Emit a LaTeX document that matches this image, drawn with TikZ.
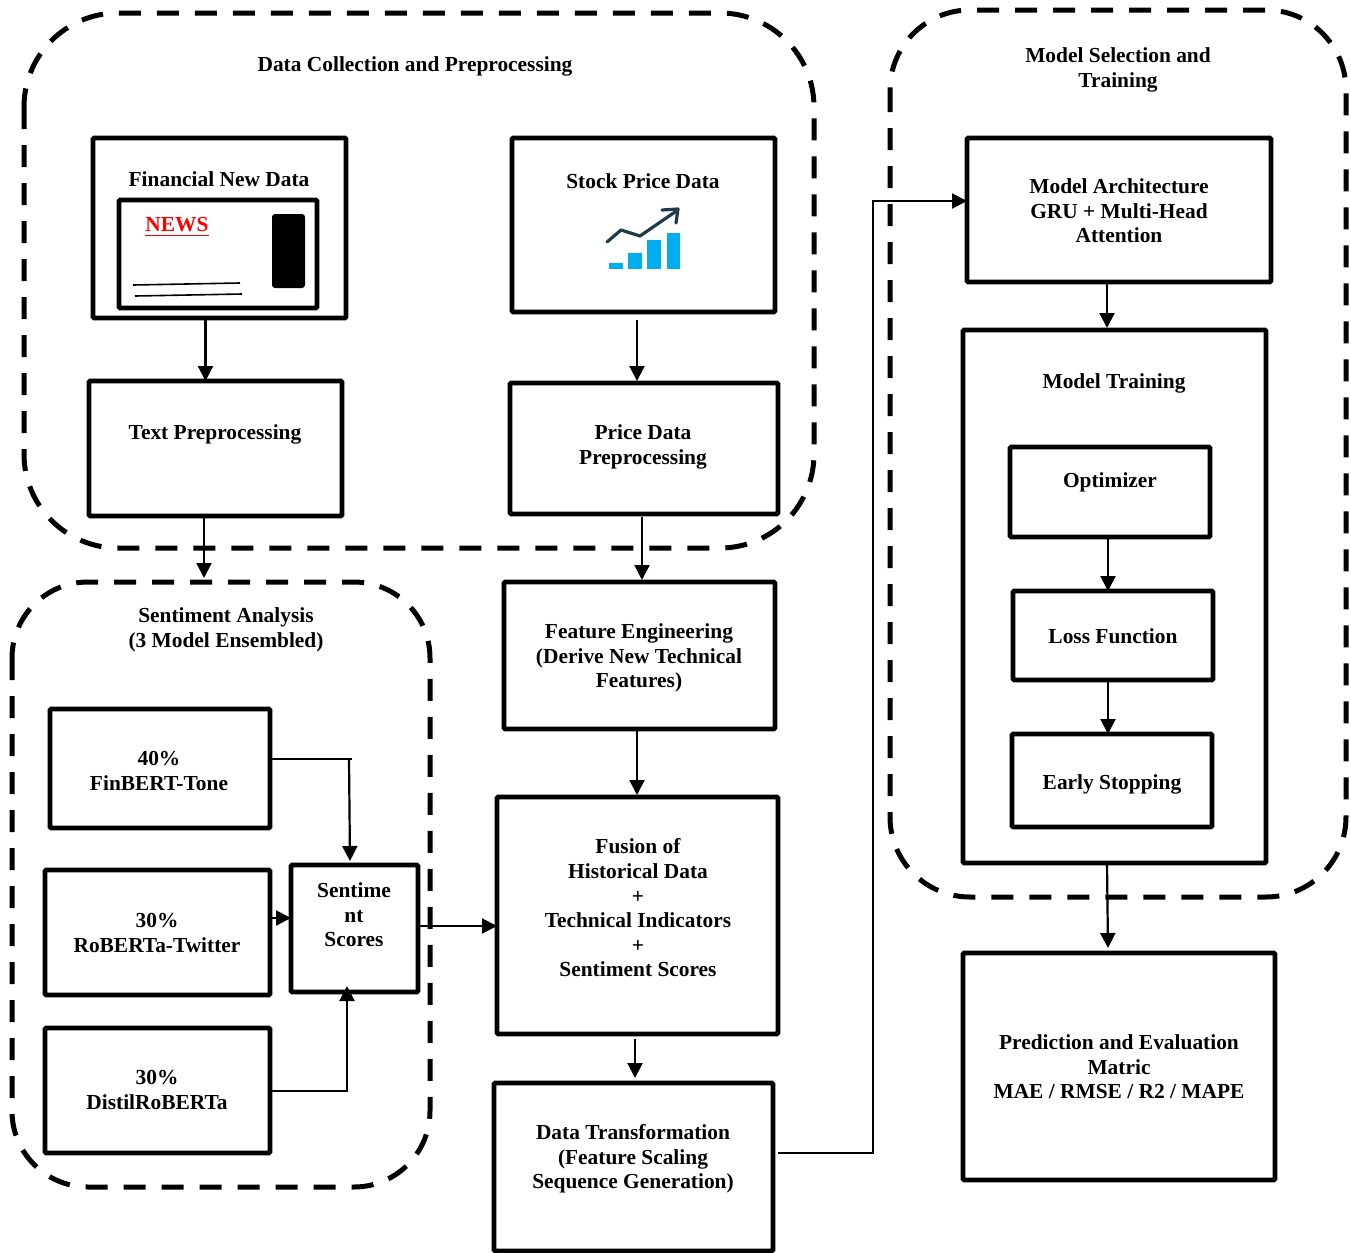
\documentclass[tikz,border=0pt]{standalone}
\usepackage{fontspec}
\setmainfont{Liberation Serif}
\usetikzlibrary{arrows.meta}
\definecolor{barblue}{HTML}{00AEEF}
\definecolor{trendnavy}{HTML}{1F3A4D}

\begin{document}
\begin{tikzpicture}
    [x=0.5pt,y=-0.5pt,
    box/.style = {draw=black,line width=2.3pt,rounded corners=0.6pt,outer sep=0pt,inner sep=0pt},
    txt/.style = {align=center,inner sep=0pt,font=\fontsize{10.7}{12.3}\selectfont\bfseries},
    group/.style = {draw=black,line width=2.5pt,dash pattern=on 11pt off 8pt},
    link/.style = {draw=black,line width=1.1pt},
    arrow/.style = {link,-{Triangle[width=7.5pt,length=7.5pt]}}]
    \useasboundingbox (0,0) rectangle (1351,1253);
    % Dashed groups
    \draw[group,rounded corners=47pt] (24,13) rectangle (814,548);
    \draw[group,rounded corners=38pt] (12,582) rectangle (430,1187);
    \draw[group,rounded corners=40pt] (890,10) rectangle (1346,897);
    \node[txt] (collect) at (415,66) {Data Collection and Preprocessing};
    \node[txt] (sentgroup) at (226,630) {Sentiment Analysis\\(3 Model Ensembled)};
    \node[txt] (selgroup) at (1118,70) {Model Selection and\\Training};
    % Data sources
    \node[box,minimum width=126.5pt,minimum height=90pt] (fin) at (219.5,228) {};
    \node[txt] (finl) at (219,179) {Financial New Data};
    \node[box,minimum width=99pt,minimum height=54pt] (paper) at (218,254) {};
    \node[txt,text=red,font=\fontsize{10.7}{13}\selectfont\bfseries] (news) at (177,227) {\underline{NEWS}};
    \fill[black,rounded corners=1.5pt] (272,214) rectangle (305,288);
    \draw[line width=0.8pt] (133,285) -- (240,283);
    \draw[line width=0.8pt] (135,296) -- (242,294);
    \node[box,minimum width=131.5pt,minimum height=87pt] (stock) at (643.5,225) {};
    \node[txt] (stockl) at (643,181) {Stock Price Data};
    % Stock icon
    \fill[barblue] (609,263) rectangle (623,269);
    \fill[barblue] (628,253) rectangle (642,269);
    \fill[barblue] (647,240) rectangle (661,269);
    \fill[barblue] (667,233) rectangle (680,269);
    \draw[line width=1.6pt,draw=trendnavy,line cap=round,line join=round] (607,242) -- (621,230) -- (640,236) -- (675,212);
    \draw[line width=1.6pt,draw=trendnavy,line cap=round,line join=round] (662,210) -- (678,209) -- (676,223);
    % Preprocessing
    \node[box,minimum width=126.5pt,minimum height=67.5pt] (text) at (215.5,448.5) {};
    \node[txt] (textl) at (215,434) {Text Preprocessing};
    \node[box,minimum width=134pt,minimum height=65.5pt] (price) at (644,448.5) {};
    \node[txt] (pricel) at (643,447) {Price Data\\Preprocessing};
    % Sentiment models
    \node[box,minimum width=110pt,minimum height=59.5pt] (finbert) at (160,768.5) {};
    \node[txt] (finbertl) at (159,771) {40\%\\FinBERT-Tone};
    \node[box,minimum width=112.5pt,minimum height=62.5pt] (roberta) at (157.5,932.5) {};
    \node[txt] (robertal) at (157,933) {30\%\\RoBERTa-Twitter};
    \node[box,minimum width=112.5pt,minimum height=62.5pt] (distil) at (157.5,1090.5) {};
    \node[txt] (distill) at (157,1090) {30\%\\DistilRoBERTa};
    \node[box,minimum width=63.5pt,minimum height=63.5pt] (sent) at (354.5,928.5) {};
    \node[txt] (sentl) at (354,915) {Sentime\\nt\\Scores};
    % Middle column
    \node[box,minimum width=135.5pt,minimum height=73.5pt] (feat) at (639.5,655.5) {};
    \node[txt] (featl) at (639,658) {Feature Engineering\\(Derive New Technical\\Features)};
    \node[box,minimum width=140.5pt,minimum height=118.5pt] (fusion) at (637.5,915.5) {};
    \node[txt] (fusionl) at (638,908) {Fusion of\\Historical Data\\+\\Technical Indicators\\+\\Sentiment Scores};
    \node[box,minimum width=139.5pt,minimum height=84pt] (trans) at (633.5,1167) {};
    \node[txt] (transl) at (633,1159) {Data Transformation\\(Feature Scaling\\Sequence Generation)};
    % Model column
    \node[box,minimum width=152pt,minimum height=72pt] (arch) at (1119,210) {};
    \node[txt] (archl) at (1119,211) {Model Architecture\\GRU + Multi-Head\\Attention};
    \node[box,minimum width=151.5pt,minimum height=266.5pt] (train) at (1114.5,596.5) {};
    \node[txt] (trainl) at (1114,383) {Model Training};
    \node[box,minimum width=100pt,minimum height=45pt] (opt) at (1110,492) {};
    \node[txt] (optl) at (1110,482) {Optimizer};
    \node[box,minimum width=100pt,minimum height=44.5pt] (loss) at (1113,635.5) {};
    \node[txt] (lossl) at (1113,636) {Loss Function};
    \node[box,minimum width=100pt,minimum height=46.5pt] (early) at (1112,780.5) {};
    \node[txt] (earlyl) at (1112,784) {Early Stopping};
    \node[box,minimum width=156pt,minimum height=113.5pt] (pred) at (1119,1066.5) {};
    \node[txt] (predl) at (1119,1067) {Prediction and Evaluation\\Matric\\MAE / RMSE / R2 / MAPE};
    % Connectors
    \draw[arrow] ([xshift=-7pt]fin.south) -- ([xshift=-5pt]text.north);
    \draw[arrow] ([xshift=-3.25pt,yshift=-4pt]stock.south) -- ([xshift=-3.5pt,yshift=1pt]price.north);
    \draw[arrow] ([xshift=-5.75pt]text.south) -- ++(0,62);
    \draw[arrow] ([xshift=-1pt,yshift=-1.5pt]price.south) -- ([xshift=1.25pt,yshift=1pt]feat.north);
    \draw[arrow] ([xshift=-1.25pt]feat.south) -- ([xshift=-0.25pt,yshift=1pt]fusion.north);
    \draw[arrow] ([xshift=-1.25pt,yshift=-2.5pt]fusion.south) -- ([xshift=0.75pt,yshift=2.5pt]trans.north);
    \coordinate (bendlow) at (873,1153);
    \coordinate (bendhigh) at (873,201);
    \draw[arrow] ([xshift=2.5pt]trans.east |- bendlow) -- (bendlow) -- (bendhigh) -- (arch.west |- bendhigh);
    \draw[arrow] ([xshift=-6pt]arch.south) -- ([xshift=-3.75pt,yshift=1pt]train.north);
    \draw[arrow] ([xshift=-1pt]opt.south) -- ([xshift=-2.5pt]loss.north);
    \draw[arrow] ([xshift=-2.5pt]loss.south) -- ([xshift=-2pt]early.north);
    \draw[arrow] ([xshift=-3.75pt]train.south) -- ([xshift=-5.5pt,yshift=2.5pt]pred.north);
    % Sentiment connectors
    \coordinate (finend) at (352,759);
    \coordinate (finturn) at (349,759);
    \coordinate (distturn) at (347,1091);
    \draw[link] (finbert.east |- finend) -- (finend);
    \draw[arrow] (finturn) -- ([xshift=-2.25pt,yshift=2pt]sent.north);
    \draw[arrow] ([yshift=7.25pt]roberta.east) -- ([yshift=5.25pt]sent.west);
    \draw[arrow] (distil.east |- distturn) -- (distturn) -- ([xshift=-3.75pt,yshift=3pt]sent.south);
    \draw[arrow] ([yshift=1.25pt]sent.east) -- ([yshift=-5.25pt]fusion.west);
\end{tikzpicture}
\end{document}
